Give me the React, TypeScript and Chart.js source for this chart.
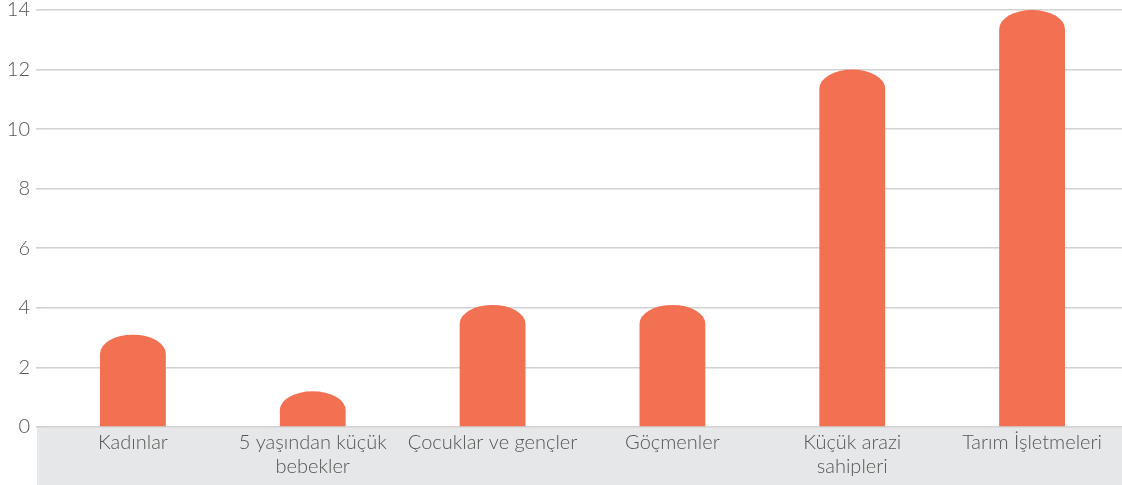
import React, { useEffect, useRef } from "react";
import { Chart, registerables } from "chart.js";

Chart.register(...registerables);

const categories: (string | string[])[] = [
  "Kadınlar",
  ["5 yaşından küçük", "bebekler"],
  "Çocuklar ve gençler",
  "Göçmenler",
  ["Küçük arazi", "sahipleri"],
  "Tarım İşletmeleri",
];
const values = [3.1, 1.2, 4.1, 4.1, 12, 14];
const yTicks = [0, 2, 4, 6, 8, 10, 12, 14];

const BAR_COLOR = "#F37153";
const BAND_COLOR = "#E6E7E8";
const GRID_COLOR = "#D2D2D2";
const TEXT_COLOR = "#555555";
const FONT = "Lato, 'Open Sans', sans-serif";

const bandPlugin = {
  id: "band",
  beforeDraw(chart: any) {
    const { ctx, chartArea, width, height } = chart;
    ctx.save();
    ctx.fillStyle = BAND_COLOR;
    ctx.fillRect(chartArea.left - 6, chartArea.bottom, width - (chartArea.left - 6), height - chartArea.bottom);
    ctx.restore();
  },
};

const roundTopPlugin = {
  id: "roundTop",
  afterDatasetsDraw(chart: any) {
    const { ctx } = chart;
    const meta = chart.getDatasetMeta(0);
    ctx.save();
    ctx.fillStyle = BAR_COLOR;
    meta.data.forEach((el: any) => {
      const props = el.getProps(["x", "y", "base", "width"], true);
      const hw = props.width / 2;
      const ry = Math.min(19, props.base - props.y);
      ctx.beginPath();
      ctx.moveTo(props.x - hw, props.base);
      ctx.lineTo(props.x - hw, props.y + ry);
      ctx.ellipse(props.x, props.y + ry, hw, ry, 0, Math.PI, 2 * Math.PI);
      ctx.lineTo(props.x + hw, props.base);
      ctx.closePath();
      ctx.fill();
    });
    ctx.restore();
  },
};

export default function App() {
  const ref = useRef<HTMLCanvasElement | null>(null);
  useEffect(() => {
    if (!ref.current) return;
    const chart = new Chart(ref.current, {
      type: "bar",
      data: {
        labels: categories,
        datasets: [
          {
            data: values,
            backgroundColor: "rgba(0,0,0,0)",
            categoryPercentage: 1,
            barPercentage: 0.366,
          },
        ],
      },
      options: {
        animation: false,
        responsive: false,
        maintainAspectRatio: false,
        layout: { padding: { top: 0, right: 0, left: 0, bottom: 0 } },
        plugins: { legend: { display: false }, tooltip: { enabled: false } },
        scales: {
          x: {
            grid: { display: false, drawTicks: false },
            border: { display: false },
            ticks: {
              color: TEXT_COLOR,
              font: { family: FONT, size: 20, weight: 300 as any, lineHeight: 1.2 },
              padding: 4,
              maxRotation: 0,
              autoSkip: false,
            },
            afterFit(scale: any) {
              scale.height = 58;
            },
          },
          y: {
            min: 0,
            max: 14,
            afterBuildTicks(scale: any) {
              scale.ticks = yTicks.map((v) => ({ value: v }));
            },
            grid: { color: GRID_COLOR, lineWidth: 1.6, tickLength: 7, drawTicks: true, tickColor: GRID_COLOR },
            border: { display: false },
            ticks: {
              color: TEXT_COLOR,
              font: { family: FONT, size: 20, weight: 300 as any },
              padding: 6,
            },
            afterFit(scale: any) {
              scale.width = 43;
            },
          },
        },
      },
      plugins: [bandPlugin, roundTopPlugin],
    });
    return () => chart.destroy();
  }, []);
  return (
    <div style={{ position: "fixed", left: 0, top: 0, width: 1122, height: 485, overflow: "hidden", background: "#fff" }}>
      <canvas ref={ref} width={1122} height={493} style={{ display: "block", marginTop: -8 }} />
    </div>
  );
}
